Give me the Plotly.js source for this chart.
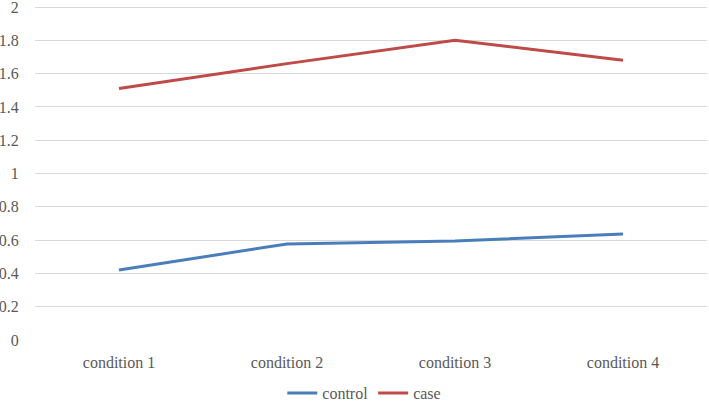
<!DOCTYPE html>
<html><head><meta charset="utf-8">
<script src="https://cdn.plot.ly/plotly-3.0.1.min.js"></script>
<style>html,body{margin:0;padding:0;background:#fff;}#chart{width:709px;height:401px;}</style>
</head><body><div id="chart"></div>
<script>
const categories = ["condition 1", "condition 2", "condition 3", "condition 4"];
const controlValues = [0.42, 0.577, 0.595, 0.637];
const caseValues = [1.51, 1.66, 1.80, 1.68];
const yTicks = [0, 0.2, 0.4, 0.6, 0.8, 1, 1.2, 1.4, 1.6, 1.8, 2];

const font = {family: "Liberation Serif, DejaVu Serif, serif", size: 16, color: "#595959"};
const traces = [
  {x: categories, y: controlValues, name: "control", type: "scatter", mode: "lines",
   line: {color: "#4A7EBB", width: 3}},
  {x: categories, y: caseValues, name: "case", type: "scatter", mode: "lines",
   line: {color: "#BE4B48", width: 3}}
];
const layout = {
  width: 709, height: 401,
  margin: {l: 35, r: 2, t: 4, b: 61, autoexpand: false},
  paper_bgcolor: "#fff", plot_bgcolor: "#fff",
  font: font,
  showlegend: true,
  legend: {orientation: "h", x: 0.49, xanchor: "center", y: -0.158, yanchor: "middle",
           font: font, itemwidth: 30, tracegroupgap: 0},
  xaxis: {type: "category", showgrid: false, zeroline: false, showline: false, automargin: false,
          ticks: "outside", ticklen: 8, tickcolor: "rgba(0,0,0,0)", tickfont: font,
          range: [-0.5, 3.5]},
  yaxis: {range: [0, 2.018], tickvals: yTicks, ticktext: yTicks.map(String), automargin: false,
          showgrid: true, gridcolor: "#D9D9D9", gridwidth: 1, zeroline: false, showline: false,
          ticklabeloverflow: "allow",
          ticks: "outside", ticklen: 12, tickcolor: "rgba(0,0,0,0)", tickfont: font}
};
Plotly.newPlot("chart", traces, layout, {displayModeBar: false, staticPlot: true});
</script></body></html>
